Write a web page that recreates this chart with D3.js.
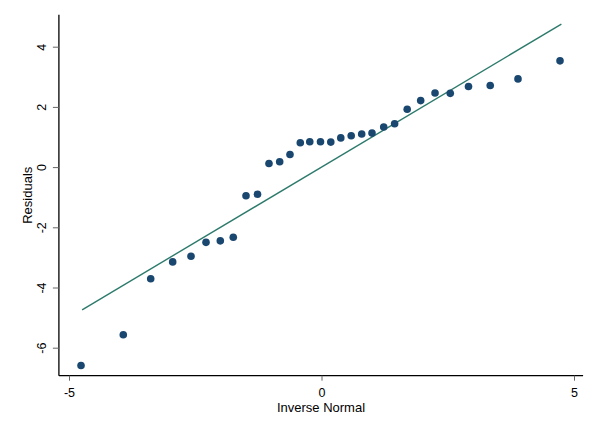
<!DOCTYPE html>
<html>
<head>
<meta charset="utf-8">
<script src="https://cdn.jsdelivr.net/npm/d3@7"></script>
<style>
  html, body { margin: 0; padding: 0; background: #fff; }
  svg { display: block; font-family: "Liberation Sans", Arial, Helvetica, sans-serif; }
</style>
</head>
<body>
<svg id="chart" width="600" height="436"></svg>
<script>
// Data (inverse normal quantile vs residual)
const inverseNormal = [-4.762, -3.925, -3.382, -2.947, -2.584, -2.287, -2.004, -1.747, -1.495, -1.267,
  -1.040, -0.828, -0.624, -0.420, -0.232, -0.020, 0.184, 0.382, 0.588, 0.796,
  1.000, 1.232, 1.448, 1.697, 1.964, 2.248, 2.550, 2.911, 3.341, 3.891, 4.723];
const residuals = [-6.59, -5.57, -3.71, -3.15, -2.96, -2.50, -2.45, -2.33, -0.95, -0.90,
  0.12, 0.18, 0.42, 0.81, 0.84, 0.84, 0.83, 0.97, 1.04, 1.10,
  1.13, 1.33, 1.44, 1.92, 2.21, 2.46, 2.45, 2.68, 2.71, 2.93, 3.53];
const refLineX = [-4.74, 4.75];
const refLineY = [-4.74, 4.75];
const xTicks = [-5, 0, 5];
const yTicks = [-6, -4, -2, 0, 2, 4];
const xTitle = "Inverse Normal";
const yTitle = "Residuals";

const svg = d3.select("#chart");
const x = d3.scaleLinear().domain([-5, 5]).range([69, 574]);
const y = d3.scaleLinear().domain([-6, 4]).range([347.7, 46.7]);
const xExt = [-5.2, 5.18];
const yExt = [-6.93, 5.06];
const fmt = d => String(d);

// axis lines
svg.append("line")
  .attr("x1", x(xExt[0])).attr("x2", x(xExt[1]))
  .attr("y1", y(yExt[0])).attr("y2", y(yExt[0]))
  .attr("stroke", "#000").attr("stroke-width", 1.3);
svg.append("line")
  .attr("x1", x(xExt[0])).attr("x2", x(xExt[0]))
  .attr("y1", y(yExt[0])).attr("y2", y(yExt[1]))
  .attr("stroke", "#000").attr("stroke-width", 1.3);

// x axis
const gx = svg.append("g")
  .attr("transform", `translate(0,${y(yExt[0])})`)
  .call(d3.axisBottom(x).tickValues(xTicks).tickSize(5).tickPadding(0).tickFormat(fmt));
gx.select(".domain").remove();
gx.selectAll(".tick line").attr("stroke", "#666").attr("stroke-width", 1);
gx.selectAll(".tick text")
  .attr("y", 21).attr("dy", 0)
  .attr("font-size", 12.5).attr("fill", "#000")
  .style("font-family", "'Liberation Sans', Arial, sans-serif");

// y axis
const gy = svg.append("g")
  .attr("transform", `translate(${x(xExt[0])},0)`)
  .call(d3.axisLeft(y).tickValues(yTicks).tickSize(6).tickFormat(fmt));
gy.select(".domain").remove();
gy.selectAll(".tick line").attr("stroke", "#666").attr("stroke-width", 1);
gy.selectAll(".tick text")
  .attr("transform", "rotate(-90)")
  .attr("x", 0).attr("y", -12.6).attr("dy", 0)
  .attr("text-anchor", "middle")
  .attr("font-size", 12.5).attr("fill", "#000")
  .style("font-family", "'Liberation Sans', Arial, sans-serif");

// reference line
svg.append("path")
  .datum(refLineX.map((d, i) => [d, refLineY[i]]))
  .attr("d", d3.line().x(d => x(d[0])).y(d => y(d[1])))
  .attr("fill", "none")
  .attr("stroke", "#2d7a6c")
  .attr("stroke-width", 1.4);

// points
svg.append("g").selectAll("circle")
  .data(inverseNormal.map((d, i) => [d, residuals[i]]))
  .join("circle")
  .attr("cx", d => x(d[0]))
  .attr("cy", d => y(d[1]))
  .attr("r", 3.8)
  .attr("fill", "#1a476f");

// titles
svg.append("text")
  .attr("x", (x(xExt[0]) + x(xExt[1])) / 2)
  .attr("y", 411.7)
  .attr("text-anchor", "middle")
  .attr("font-size", 13)
  .attr("fill", "#000")
  .text(xTitle);

svg.append("text")
  .attr("transform", `translate(31.5,${(y(yExt[0]) + y(yExt[1])) / 2}) rotate(-90)`)
  .attr("text-anchor", "middle")
  .attr("font-size", 13)
  .attr("fill", "#000")
  .text(yTitle);
</script>
</body>
</html>
